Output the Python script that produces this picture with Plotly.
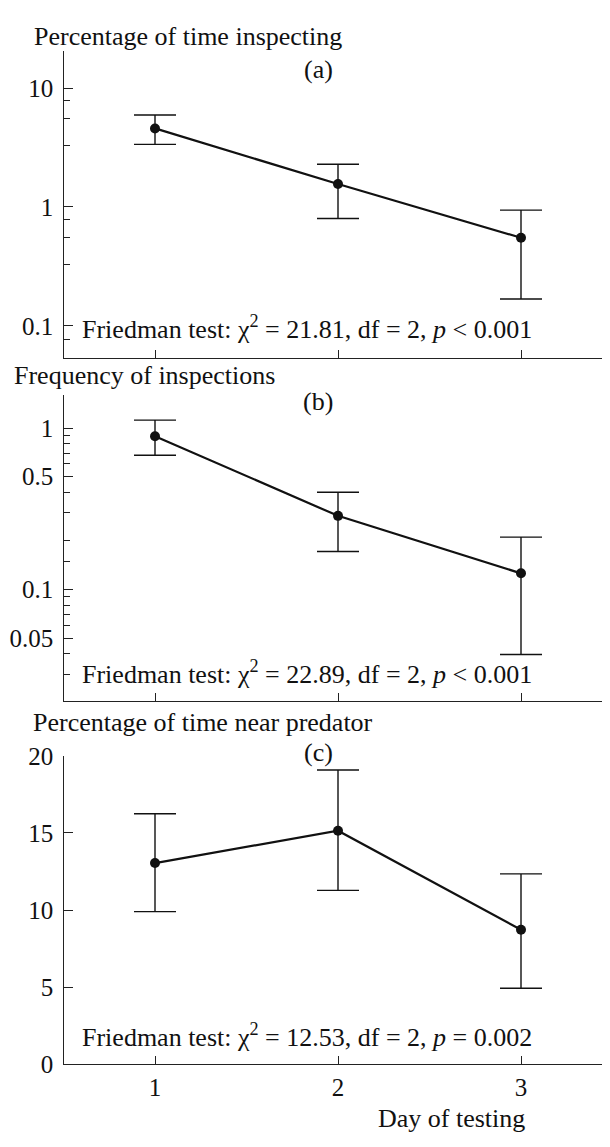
import plotly.graph_objects as go

# ---------------- data ----------------
days = [1, 2, 3]

# (a) Percentage of time inspecting
insp_pct = [4.58, 1.56, 0.55]
insp_pct_hi = [5.94, 2.29, 0.94]
insp_pct_lo = [3.36, 0.80, 0.168]

# (b) Frequency of inspections
insp_freq = [0.89, 0.286, 0.126]
insp_freq_hi = [1.12, 0.40, 0.211]
insp_freq_lo = [0.678, 0.172, 0.0396]

# (c) Percentage of time near predator
near_pct = [13.05, 15.15, 8.73]
near_pct_hi = [16.25, 19.08, 12.35]
near_pct_lo = [9.9, 11.28, 4.93]

panel_titles = ["Percentage of time inspecting", "Frequency of inspections",
                "Percentage of time near predator"]
panel_letters = ["(a)", "(b)", "(c)"]
stats_text = [
    "Friedman test: \u03c7<sup>2</sup> = 21.81, df = 2, <i>p</i> < 0.001",
    "Friedman test: \u03c7<sup>2</sup> = 22.89, df = 2, <i>p</i> < 0.001",
    "Friedman test: \u03c7<sup>2</sup> = 12.53, df = 2, <i>p</i> = 0.002",
]
x_label = "Day of testing"

a_ticks = [10, 1, 0.1]
a_ticktext = ["10", "1", "0.1"]
a_minor = [7.8, 5.5, 3.3, 0.78, 0.55, 0.33, 0.077]
b_ticks = [1, 0.5, 0.1, 0.05]
b_ticktext = ["1", "0.5", "0.1", "0.05"]
b_minor = [0.9, 0.8, 0.7, 0.6, 0.4, 0.3, 0.2, 0.15, 0.09, 0.08, 0.07, 0.06, 0.04, 0.03]
c_ticks = [0, 5, 10, 15, 20]
x_ticks = [1, 2, 3]

# ---------------- figure ----------------
OFF = 8                      # page body margin of the html page
W, H = 610 - OFF, 1147 - OFF
FONT = "Liberation Serif"
INK = "#111"
AX = "#222"


def px_x(p):
    return (p - OFF) / W


def px_y(p):
    return 1 - (p - OFF) / H


fig = go.Figure()
series = [
    (insp_pct, insp_pct_hi, insp_pct_lo, "x", "y"),
    (insp_freq, insp_freq_hi, insp_freq_lo, "x2", "y2"),
    (near_pct, near_pct_hi, near_pct_lo, "x3", "y3"),
]
for vals, hi, lo, xa, ya in series:
    fig.add_trace(go.Scatter(
        x=days, y=vals, xaxis=xa, yaxis=ya, mode="lines+markers",
        line=dict(color=INK, width=2.2),
        marker=dict(color=INK, size=10),
        error_y=dict(type="data", symmetric=False,
                     array=[h - v for h, v in zip(hi, vals)],
                     arrayminus=[v - l for v, l in zip(vals, lo)],
                     color=INK, thickness=1.4, width=21),
        showlegend=False, cliponaxis=False,
    ))

x_left = 63.5
xdom = [px_x(x_left), 1.0]
xrange_ = [0.5, 0.5 + (610 - x_left) / 183.0]
common_x = dict(domain=xdom, range=xrange_, showgrid=False, zeroline=False,
                showline=True, linecolor=AX, linewidth=1.4,
                ticks="inside", ticklen=8, tickwidth=1.4, tickcolor=AX,
                tickmode="array", tickvals=x_ticks)
tickfont = dict(family=FONT, size=25, color=INK)
common_y = dict(showgrid=False, zeroline=False, showline=True, linecolor=AX,
                linewidth=1.4, ticks="inside", ticklen=9, tickwidth=1.4,
                tickcolor=AX, tickfont=tickfont, tickmode="array",
                ticklabelstandoff=4)

fig.update_layout(
    width=W, height=H, margin=dict(l=0, r=0, t=0, b=0),
    paper_bgcolor="white", plot_bgcolor="white", showlegend=False,
    xaxis=dict(common_x, anchor="y", showticklabels=False),
    xaxis2=dict(common_x, anchor="y2", showticklabels=False),
    xaxis3=dict(common_x, anchor="y3", showticklabels=True, tickfont=tickfont,
                ticktext=[str(t) for t in x_ticks]),
    yaxis=dict(common_y, anchor="x", type="log", range=[-1.274, 1.316],
               domain=[px_y(353.5), px_y(38.3)], tickvals=a_ticks, ticktext=a_ticktext,
               minor=dict(tickmode="array", tickvals=a_minor, ticks="inside",
                          ticklen=6, tickwidth=1.4, tickcolor=AX, showgrid=False)),
    yaxis2=dict(common_y, anchor="x2", type="log", range=[-1.693, 0.205],
                domain=[px_y(705), px_y(391)], tickvals=b_ticks, ticktext=b_ticktext,
                minor=dict(tickmode="array", tickvals=b_minor, ticks="inside",
                           ticklen=6, tickwidth=1.4, tickcolor=AX, showgrid=False)),
    yaxis3=dict(common_y, anchor="x3", range=[0, 20],
                domain=[px_y(1076.7), px_y(760.7)], tickvals=c_ticks,
                ticktext=[str(t) for t in c_ticks]),
)

txtfont = dict(family=FONT, size=26, color=INK)
ann = []
title_pos = [(32, 24), (12, 371), (31, 727)]
letter_pos = [(318, 58), (318, 398), (318, 757)]
stat_pos = [(80, 322), (80, 675), (80, 1047)]
for i in range(3):
    tx, ty = title_pos[i]
    ann.append(dict(text=panel_titles[i], x=px_x(tx), y=px_y(ty), xref="paper", yref="paper",
                    xanchor="left", yanchor="middle", showarrow=False, font=txtfont))
    lx, ly = letter_pos[i]
    ann.append(dict(text=panel_letters[i], x=px_x(lx), y=px_y(ly), xref="paper", yref="paper",
                    xanchor="center", yanchor="middle", showarrow=False, font=txtfont))
    sx, sy = stat_pos[i]
    ann.append(dict(text=stats_text[i], x=px_x(sx), y=px_y(sy), xref="paper", yref="paper",
                    xanchor="left", yanchor="middle", showarrow=False, font=txtfont))
ann.append(dict(text=x_label, x=px_x(452), y=px_y(1132), xref="paper", yref="paper",
                xanchor="center", yanchor="middle", showarrow=False, font=txtfont))
fig.update_layout(annotations=ann)

fig.write_html("out.html")
